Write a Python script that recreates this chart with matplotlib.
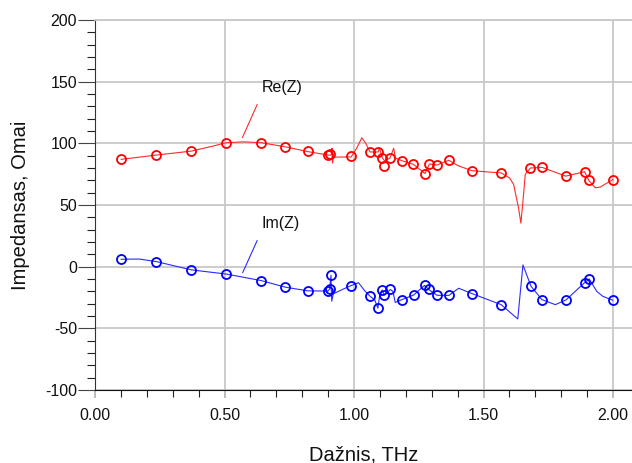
import matplotlib
matplotlib.use("Agg")
import matplotlib.pyplot as plt
from matplotlib.ticker import MultipleLocator, FormatStrFormatter

plt.rcParams['font.family'] = ['Liberation Sans', 'DejaVu Sans']
plt.rcParams['axes.unicode_minus'] = False

# measured points (markers)
re_f = [0.101, 0.237, 0.372, 0.507, 0.642, 0.734, 0.821, 0.898, 0.907, 0.989,
        1.062, 1.093, 1.109, 1.116, 1.138, 1.184, 1.229, 1.274, 1.291, 1.320,
        1.366, 1.455, 1.568, 1.681, 1.726, 1.817, 1.890, 1.906, 1.999]
re_z = [87.0, 90.8, 93.8, 100.4, 100.4, 97.2, 93.5, 90.5, 91.0, 89.5,
        93.0, 93.0, 88.4, 82.0, 87.8, 85.8, 83.2, 75.5, 83.3, 82.4,
        86.3, 77.6, 75.8, 80.0, 80.5, 73.4, 77.0, 70.0, 70.6]

im_f = [0.101, 0.237, 0.372, 0.507, 0.642, 0.734, 0.821, 0.899, 0.906, 0.911,
        0.989, 1.062, 1.092, 1.108, 1.117, 1.140, 1.185, 1.230, 1.272, 1.288,
        1.320, 1.366, 1.455, 1.568, 1.683, 1.725, 1.818, 1.890, 1.908, 1.998]
im_z = [6.0, 4.1, -2.6, -6.0, -11.3, -16.6, -19.6, -19.8, -18.0, -7.0,
        -15.3, -24.0, -33.6, -19.0, -23.0, -18.5, -26.7, -23.0, -15.2, -18.5,
        -23.2, -23.3, -21.8, -30.8, -15.8, -26.7, -27.0, -13.0, -10.0, -27.2]

# model curves (line)
re_line_f = [0.101, 0.237, 0.372, 0.45, 0.507, 0.575, 0.642, 0.734, 0.821, 0.900,
             0.912, 0.915, 0.917, 0.920, 0.989, 1.010, 1.030, 1.045, 1.062, 1.093,
             1.098, 1.109, 1.117, 1.138, 1.153, 1.160, 1.185, 1.229, 1.274, 1.291,
             1.320, 1.366, 1.40, 1.455, 1.568, 1.600, 1.616, 1.635, 1.644, 1.652,
             1.661, 1.681, 1.726, 1.817, 1.890, 1.906, 1.931, 1.950, 1.999]
re_line_z = [87.0, 90.5, 93.7, 97.5, 100.5, 101.2, 100.5, 97.2, 93.3, 90.5,
             90.5, 96.0, 84.0, 88.8, 89.0, 96.0, 104.5, 100.0, 93.0, 93.0,
             96.0, 88.4, 86.0, 87.8, 96.0, 88.0, 85.9, 83.0, 75.5, 83.3,
             82.4, 86.3, 82.0, 77.8, 76.0, 72.0, 66.7, 47.6, 35.3, 53.0,
             74.9, 80.0, 80.5, 73.4, 77.0, 70.0, 64.0, 64.5, 70.6]

im_line_f = [0.101, 0.17, 0.237, 0.372, 0.507, 0.642, 0.734, 0.821, 0.899, 0.906,
             0.911, 0.912, 0.914, 0.920, 0.960, 0.989, 1.017, 1.043, 1.062, 1.080,
             1.092, 1.100, 1.108, 1.117, 1.140, 1.150, 1.159, 1.185, 1.230, 1.272,
             1.288, 1.320, 1.366, 1.404, 1.455, 1.568, 1.632, 1.652, 1.683, 1.725,
             1.777, 1.818, 1.890, 1.908, 1.937, 1.960, 1.998]
im_line_z = [6.0, 6.2, 4.1, -2.6, -6.0, -11.3, -16.6, -19.6, -19.8, -18.0,
             -7.0, -18.0, -28.0, -22.0, -18.0, -15.3, -13.0, -20.0, -24.0, -27.0,
             -33.6, -22.0, -19.0, -23.0, -18.5, -20.0, -29.0, -26.7, -23.0, -15.2,
             -18.5, -23.2, -23.3, -17.5, -21.8, -30.8, -42.4, 1.4, -15.8, -26.7,
             -30.8, -27.0, -13.0, -10.0, -20.0, -24.0, -27.2]

fig = plt.figure(figsize=(6.32, 4.63), dpi=100)
ax = fig.add_axes([95/632, 73/463, 1 - 95/632, 370/463])

ax.plot(re_line_f, re_line_z, color='#ff2a2a', lw=0.8)
ax.plot(re_f, re_z, 'o', mfc='none', mec='#ff0000', ms=6.5, mew=1.3)
ax.plot(im_line_f, im_line_z, color='#2a2aff', lw=0.8)
ax.plot(im_f, im_z, 'o', mfc='none', mec='#0000ff', ms=6.5, mew=1.3)

ax.annotate('Re(Z)', xy=(0.569, 104.6), xytext=(0.642, 145), fontsize=11.5,
            color='#111111', va='center', ha='left',
            arrowprops=dict(arrowstyle='-', color='#ff2a2a', lw=0.8,
                            shrinkA=5, shrinkB=0, relpos=(0, 0)))
ax.annotate('Im(Z)', xy=(0.570, -4.9), xytext=(0.642, 34.7), fontsize=11.5,
            color='#111111', va='center', ha='left',
            arrowprops=dict(arrowstyle='-', color='#2a2aff', lw=0.8,
                            shrinkA=5, shrinkB=0, relpos=(0, 0)))

ax.set_xlim(0, 2.073)
ax.set_ylim(-100, 200)
ax.xaxis.set_major_locator(MultipleLocator(0.5))
ax.xaxis.set_minor_locator(MultipleLocator(0.1))
ax.xaxis.set_major_formatter(FormatStrFormatter('%.2f'))
ax.yaxis.set_major_locator(MultipleLocator(50))
ax.yaxis.set_minor_locator(MultipleLocator(10))

ax.grid(True, which='major', color='#c8c8c8', lw=1.3)
ax.set_axisbelow(True)
ax.spines['right'].set_visible(False)
ax.spines['top'].set_color('#c8c8c8')
ax.spines['top'].set_linewidth(1.3)
ax.spines['left'].set_color('#333333')
ax.spines['bottom'].set_color('#111111')

ax.tick_params(axis='x', which='major', length=6, color='#b0b0b0', width=1.2,
               labelsize=11.5, labelcolor='#111111', pad=7)
ax.tick_params(axis='x', which='minor', length=5, color='#222222', width=0.8)
ax.tick_params(axis='y', which='major', length=12, color='#444444', width=0.8,
               labelsize=11.5, labelcolor='#111111', pad=1)
ax.tick_params(axis='y', which='minor', length=6, color='#222222', width=0.8)

ax.set_xlabel('Dažnis, THz', fontsize=14.5, color='#111111', labelpad=16)
ax.set_ylabel('Impedansas, Omai', fontsize=14.5, color='#111111', labelpad=11)

fig.savefig('out.png', dpi=100)
